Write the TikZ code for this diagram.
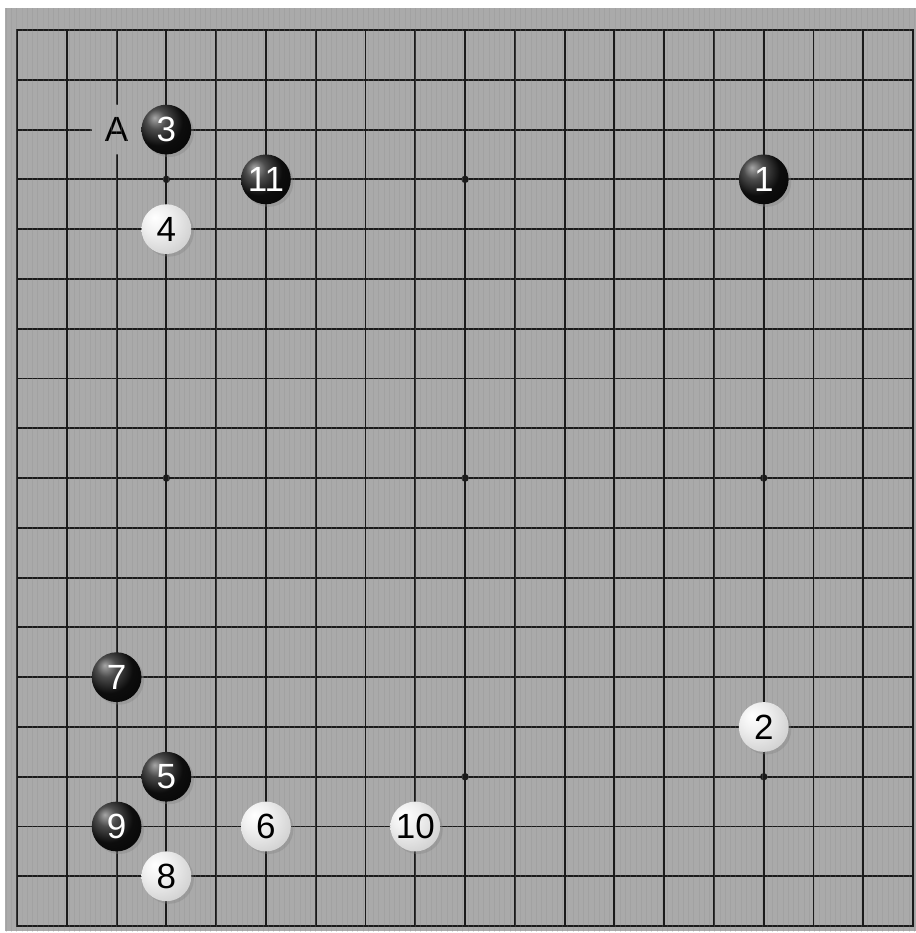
\documentclass[tikz,border=0pt]{standalone}
\usepackage{fontspec}
\setmainfont{Liberation Sans}
\usetikzlibrary{shadows,patterns}
\definecolor{BoardGray}{RGB}{170,170,170}
\definecolor{GridInk}{RGB}{26,26,26}
\pgfdeclareradialshading{blackstone}{\pgfpoint{-12bp}{12bp}}{color(0bp)=(black!35); color(10bp)=(black!70); color(24bp)=(black!95); color(50bp)=(black); color(70bp)=(black!90)}
\pgfdeclareradialshading{whitestone}{\pgfpoint{-12bp}{12bp}}{color(0bp)=(white); color(14bp)=(white!94!black); color(34bp)=(white!82!black); color(52bp)=(white!66!black); color(70bp)=(white!52!black)}

\begin{document}
\begin{tikzpicture}[
        every node/.style={font=\fontsize{20}{20}\selectfont},
        gridline/.style={draw=GridInk, line width=1.1pt, line cap=rect},
        stone/.style={circle, minimum size=1.0cm, inner sep=0pt,
            drop shadow={shadow xshift=1.5pt, shadow yshift=-1.5pt, opacity=0.35}},
        black stone/.style={stone, shading=blackstone, text=white},
        white stone/.style={stone, shading=whitestone, text=black},
        marklabel/.style={circle, fill=BoardGray, minimum size=1.0cm, inner sep=0pt}
    ]
    \useasboundingbox (-0.342,-0.139) rectangle (18.058,18.603);
    % Board
    \fill[white] (-0.342,-0.139) rectangle (18.058,18.603);
    \fill[BoardGray] (-0.241,-0.10) rectangle (18.058,18.442);

    % Grid
    \foreach \i in {0,...,18} {
        \draw[gridline] (\i,0) -- (\i,18);
        \draw[gridline] (0,\i) -- (18,\i);
    }
    \foreach \x in {3,9,15}
        \foreach \y in {3,9,15}
            \fill[GridInk] (\x,\y) circle (0.075);

    % Label
    \node[marklabel] (markA) at (2,16) {A};

    % Wood grain
    \fill[pattern=vertical lines, pattern color=black!45, opacity=0.25] (-0.241,-0.10) rectangle (18.058,18.442);

    % Stones
    \node[black stone] (m1) at (15,15) {1};
    \node[white stone] (m2) at (15,4) {2};
    \node[black stone] (m3) at (3,16) {3};
    \node[white stone] (m4) at (3,14) {4};
    \node[black stone] (m5) at (3,3) {5};
    \node[white stone] (m6) at (5,2) {6};
    \node[black stone] (m7) at (2,5) {7};
    \node[white stone] (m8) at (3,1) {8};
    \node[black stone] (m9) at (2,2) {9};
    \node[white stone] (m10) at (8,2) {10};
    \node[black stone] (m11) at (5,15) {11};
\end{tikzpicture}
\end{document}
